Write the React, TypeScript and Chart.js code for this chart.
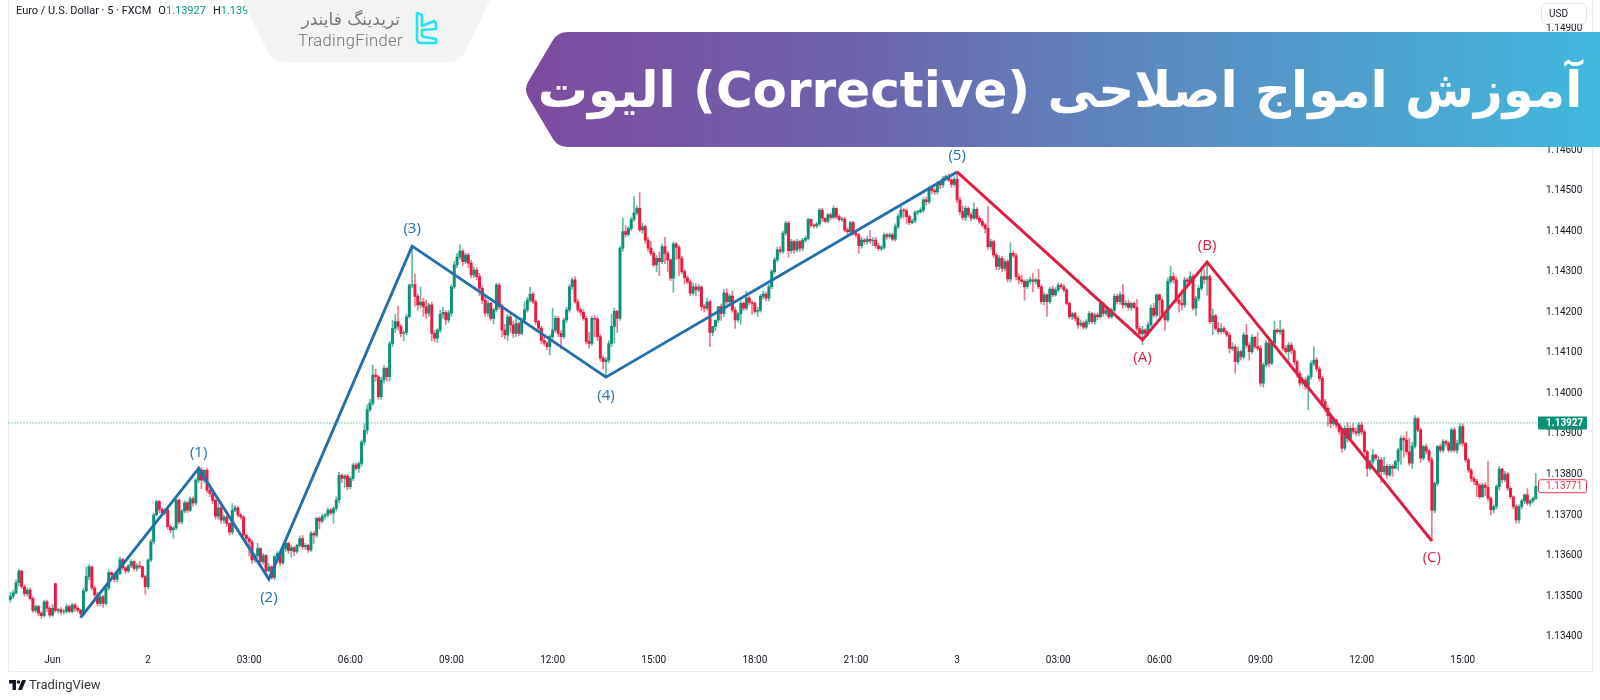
import React, { useEffect, useRef } from "react";
import { Chart, registerables } from "chart.js";

Chart.register(...registerables);

// All candle values are offsets from 1.13000 in units of 0.00001.
const BASE = 1.13;

const opens = [
492,500,508,533,562,523,506,515,494,465,474,458,452,486,470,453,531,465,467,461,
462,474,462,478,470,465,456,513,548,572,520,503,482,498,482,520,558,553,541,556,
590,570,562,575,585,568,575,572,548,523,589,634,700,733,714,705,712,671,663,668,
737,683,710,730,712,740,730,786,811,786,810,761,753,736,697,718,687,695,679,658,
712,718,700,695,650,642,634,589,600,617,585,600,562,572,546,597,605,582,617,630,
612,620,610,625,642,622,625,614,655,650,692,685,697,700,712,705,716,737,798,790,
796,770,790,823,815,827,880,909,960,976,1045,1041,992,1033,1062,1041,1123,1160,1177,1165,
1148,1150,1189,1267,1268,1239,1218,1225,1213,1198,1218,1148,1136,1156,1195,1200,1181,1198,1263,1317,
1336,1351,1325,1341,1321,1292,1304,1288,1259,1230,1198,1222,1185,1206,1267,1214,1156,1144,1189,1169,
1148,1172,1148,1181,1206,1230,1245,1226,1177,1161,1130,1124,1115,1140,1156,1185,1148,1140,1181,1206,
1263,1280,1226,1206,1200,1185,1128,1123,1185,1183,1140,1087,1078,1082,1123,1165,1202,1185,1358,1399,
1392,1407,1429,1445,1456,1403,1411,1378,1358,1345,1317,1333,1325,1362,1345,1329,1284,1369,1360,1333,
1300,1285,1275,1247,1263,1255,1262,1214,1210,1226,1150,1165,1181,1214,1197,1247,1226,1240,1205,1181,
1196,1222,1210,1235,1224,1222,1202,1205,1239,1245,1235,1263,1300,1329,1354,1350,1395,1420,1352,1374,
1354,1374,1358,1378,1382,1429,1415,1413,1418,1452,1432,1424,1440,1434,1456,1436,1428,1430,1403,1399,
1421,1395,1391,1364,1378,1374,1380,1376,1378,1364,1357,1360,1391,1387,1391,1380,1411,1436,1452,1450,
1436,1421,1425,1446,1448,1452,1477,1473,1506,1500,1497,1518,1514,1530,1535,1526,1515,1528,1477,1448,
1434,1456,1440,1432,1454,1432,1424,1415,1407,1362,1374,1341,1313,1333,1308,1325,1282,1345,1340,1288,
1280,1276,1263,1276,1280,1276,1280,1263,1226,1243,1226,1257,1243,1255,1267,1263,1255,1222,1189,1197,
1185,1169,1173,1163,1177,1197,1177,1193,1189,1222,1197,1205,1189,1205,1239,1226,1243,1218,1222,1212,
1222,1212,1160,1147,1156,1148,1169,1210,1193,1243,1230,1193,1181,1276,1288,1280,1230,1222,1218,1280,
1276,1288,1210,1234,1259,1288,1281,1288,1177,1191,1160,1152,1160,1152,1144,1111,1114,1078,1103,1090,
1144,1119,1103,1138,1115,1111,1025,1070,1124,1074,1124,1156,1152,1156,1111,1103,1119,1105,1078,1049,
1025,1033,1017,1041,1074,1082,1060,1037,980,963,945,926,934,922,906,865,914,889,914,906,
902,922,905,856,815,832,848,805,836,807,820,799,820,815,832,860,889,885,856,828,
870,938,910,840,869,858,836,712,778,869,860,881,877,860,910,860,877,918,877,836,
811,790,783,774,745,774,768,741,713,721,770,813,787,801,766,745,721,688,721,735,
750,729,735,741,
];

const highs = [
510,515,540,566,564,528,520,520,498,478,478,462,490,490,475,480,531,470,472,468,
480,478,482,482,474,468,520,572,578,574,525,510,502,502,525,565,560,556,562,597,
594,573,578,590,587,580,585,575,552,592,640,705,736,736,718,716,715,676,672,740,
740,714,735,734,745,745,790,820,818,812,815,765,756,740,728,722,700,698,682,728,
724,722,705,698,654,646,638,605,630,620,605,603,580,575,600,610,608,622,634,633,
625,622,628,648,650,630,628,660,660,695,696,702,704,718,716,720,745,805,802,800,
800,795,828,828,832,885,925,972,985,1070,1060,1045,1040,1068,1065,1128,1180,1195,1215,1170,
1155,1195,1270,1364,1295,1245,1262,1235,1230,1222,1225,1155,1160,1205,1212,1205,1204,1268,1325,1345,
1366,1356,1346,1345,1328,1312,1310,1296,1265,1240,1228,1225,1210,1272,1272,1220,1170,1195,1200,1178,
1185,1176,1186,1225,1236,1262,1250,1230,1180,1165,1138,1128,1145,1210,1192,1190,1155,1186,1212,1268,
1285,1288,1232,1210,1208,1190,1150,1190,1192,1188,1145,1092,1088,1130,1195,1210,1205,1362,1432,1414,
1412,1435,1485,1462,1495,1420,1415,1385,1375,1350,1340,1348,1368,1385,1350,1332,1373,1372,1365,1338,
1305,1290,1280,1272,1270,1268,1266,1220,1235,1230,1158,1172,1186,1220,1256,1258,1245,1252,1212,1200,
1228,1226,1252,1240,1228,1226,1212,1244,1252,1250,1268,1305,1335,1360,1362,1400,1425,1424,1380,1378,
1380,1378,1382,1388,1432,1430,1418,1422,1456,1456,1430,1444,1445,1462,1458,1440,1434,1434,1408,1425,
1425,1400,1395,1385,1382,1388,1402,1384,1385,1370,1365,1396,1395,1395,1396,1418,1442,1466,1456,1455,
1440,1430,1450,1452,1458,1482,1484,1510,1512,1506,1522,1522,1535,1538,1540,1530,1534,1546,1484,1462,
1462,1460,1445,1470,1458,1438,1430,1420,1461,1380,1378,1345,1340,1338,1330,1330,1372,1352,1345,1295,
1292,1280,1282,1286,1296,1284,1306,1268,1248,1245,1262,1265,1260,1272,1272,1268,1258,1226,1200,1200,
1190,1180,1178,1182,1202,1200,1198,1198,1228,1225,1210,1210,1210,1245,1245,1250,1268,1228,1230,1226,
1226,1232,1165,1165,1160,1175,1218,1222,1245,1246,1235,1200,1284,1313,1298,1286,1240,1255,1286,1285,
1300,1294,1240,1265,1312,1305,1321,1292,1208,1195,1175,1172,1165,1155,1150,1125,1120,1115,1106,1150,
1170,1125,1145,1140,1150,1118,1075,1130,1130,1130,1178,1160,1180,1160,1118,1125,1125,1110,1082,1055,
1040,1038,1045,1080,1115,1088,1066,1042,985,968,950,940,938,926,910,920,928,920,925,915,
928,930,910,860,836,862,850,845,842,842,825,825,825,835,865,895,895,906,890,880,
945,940,915,872,875,862,842,782,872,875,886,885,882,915,915,885,925,925,880,840,
815,795,788,778,778,780,833,745,725,775,820,815,808,805,770,748,725,725,740,752,
765,738,745,803,
];

const lows = [
485,494,505,525,518,500,500,490,460,460,452,445,448,462,448,450,460,458,455,456,
458,458,458,462,460,447,452,510,540,515,495,475,476,472,478,515,548,535,535,552,
565,556,558,570,562,562,568,544,505,518,585,628,698,705,698,700,665,655,642,664,
678,678,705,706,708,722,725,780,765,780,755,745,728,690,690,680,680,672,650,652,
708,695,690,645,635,600,580,583,595,578,578,555,560,542,540,590,575,578,610,605,
596,600,605,620,615,615,608,610,630,645,665,680,690,695,700,680,710,730,780,768,
762,765,785,810,805,820,872,900,955,970,1030,985,985,1025,1030,1030,1115,1150,1155,1140,
1130,1144,1185,1260,1215,1205,1210,1190,1185,1190,1130,1128,1125,1150,1185,1170,1175,1190,1258,1310,
1330,1315,1320,1310,1285,1285,1280,1240,1222,1190,1190,1180,1172,1200,1208,1140,1135,1130,1150,1138,
1140,1142,1145,1175,1200,1225,1222,1170,1155,1122,1118,1108,1095,1135,1150,1140,1110,1135,1175,1200,
1256,1222,1200,1192,1180,1122,1112,1118,1140,1130,1080,1060,1040,1075,1115,1125,1150,1180,1350,1385,
1388,1402,1424,1440,1398,1395,1370,1350,1340,1312,1300,1290,1320,1320,1300,1278,1249,1330,1290,1295,
1270,1270,1240,1242,1240,1250,1205,1200,1205,1115,1142,1155,1175,1180,1190,1220,1218,1200,1160,1175,
1170,1204,1205,1218,1195,1198,1190,1200,1232,1228,1228,1258,1295,1325,1345,1345,1390,1335,1345,1345,
1348,1350,1352,1372,1378,1410,1408,1408,1412,1424,1420,1420,1428,1430,1430,1424,1424,1398,1392,1392,
1390,1385,1345,1358,1368,1368,1370,1364,1358,1352,1352,1355,1380,1382,1376,1375,1406,1430,1432,1418,
1416,1418,1420,1440,1444,1446,1464,1468,1492,1490,1492,1505,1508,1525,1522,1508,1510,1470,1440,1428,
1425,1435,1425,1428,1428,1418,1410,1395,1355,1355,1335,1305,1305,1300,1302,1275,1275,1335,1280,1270,
1270,1230,1258,1270,1250,1270,1258,1220,1218,1190,1222,1238,1240,1250,1258,1250,1218,1184,1182,1178,
1160,1164,1158,1158,1170,1172,1170,1182,1185,1190,1192,1184,1184,1200,1220,1220,1210,1212,1205,1205,
1208,1155,1140,1120,1140,1142,1165,1188,1188,1190,1188,1155,1176,1270,1272,1225,1200,1205,1212,1270,
1270,1205,1192,1228,1254,1270,1242,1172,1145,1155,1146,1148,1148,1140,1100,1105,1050,1072,1082,1085,
1112,1082,1098,1110,1105,1018,1015,1065,1065,1070,1118,1148,1146,1105,1098,1075,1098,1070,1040,1018,
1020,1010,960,1035,1068,1055,1030,972,955,920,915,920,915,900,855,860,880,885,900,895,
895,898,850,795,810,825,835,800,780,800,790,795,795,815,810,825,842,850,822,815,
865,905,830,835,850,830,637,705,772,855,855,870,855,855,855,852,872,870,830,805,
782,775,745,740,742,748,735,700,705,715,762,780,782,760,740,715,680,680,715,728,
724,722,730,738,
];

const closes = [
500,508,533,562,523,506,515,494,465,474,458,452,486,470,453,470,465,467,461,462,
474,462,478,470,465,456,513,548,572,520,503,482,498,482,520,558,553,541,556,590,
570,562,575,585,568,575,572,548,523,589,634,700,733,714,705,712,671,663,668,737,
683,710,730,712,740,730,786,811,786,810,761,753,736,697,718,687,695,679,658,712,
718,700,695,650,642,634,589,600,617,585,600,562,572,546,597,605,582,617,630,612,
620,610,625,642,622,625,614,655,650,692,685,697,700,712,705,716,737,798,790,796,
770,790,823,815,827,880,909,960,976,1045,1041,992,1033,1062,1041,1123,1160,1177,1165,1148,
1150,1189,1267,1268,1239,1218,1225,1213,1198,1218,1148,1136,1156,1195,1200,1181,1198,1263,1317,1336,
1351,1325,1341,1321,1292,1304,1288,1259,1230,1198,1222,1185,1206,1267,1214,1156,1144,1189,1169,1148,
1172,1148,1181,1206,1230,1245,1226,1177,1161,1130,1124,1115,1140,1156,1185,1148,1140,1181,1206,1263,
1280,1226,1206,1200,1185,1128,1123,1185,1183,1140,1087,1078,1082,1123,1165,1202,1185,1358,1399,1392,
1407,1429,1445,1456,1403,1411,1378,1358,1345,1317,1333,1325,1362,1345,1329,1284,1369,1360,1333,1300,
1285,1275,1247,1263,1255,1262,1214,1210,1226,1150,1165,1181,1214,1197,1247,1226,1240,1205,1181,1196,
1222,1210,1235,1224,1222,1202,1205,1239,1245,1235,1263,1300,1329,1354,1350,1395,1420,1352,1374,1354,
1374,1358,1378,1382,1429,1415,1413,1418,1452,1432,1424,1440,1434,1456,1436,1428,1430,1403,1399,1421,
1395,1391,1364,1378,1374,1380,1376,1378,1364,1357,1360,1391,1387,1391,1380,1411,1436,1452,1450,1436,
1421,1425,1446,1448,1452,1477,1473,1506,1500,1497,1518,1514,1530,1535,1526,1515,1528,1477,1448,1434,
1456,1440,1432,1454,1432,1424,1415,1407,1362,1374,1341,1313,1333,1308,1325,1282,1345,1340,1288,1280,
1276,1263,1276,1280,1276,1280,1263,1226,1243,1226,1257,1243,1255,1267,1263,1255,1222,1189,1197,1185,
1169,1173,1163,1177,1197,1177,1193,1189,1222,1197,1205,1189,1205,1239,1226,1243,1218,1222,1212,1222,
1212,1160,1147,1156,1148,1169,1210,1193,1243,1230,1193,1181,1276,1288,1280,1230,1222,1218,1280,1276,
1288,1210,1234,1259,1288,1281,1288,1177,1191,1160,1152,1160,1152,1144,1111,1114,1078,1103,1090,1144,
1119,1103,1138,1115,1111,1025,1070,1124,1074,1124,1156,1152,1156,1111,1103,1119,1105,1078,1049,1025,
1033,1017,1041,1074,1082,1060,1037,980,963,945,926,934,922,906,865,914,889,914,906,902,
922,905,856,815,832,848,840,836,807,820,799,820,815,832,860,889,885,856,828,870,
938,910,840,869,858,836,712,778,869,860,881,877,860,910,860,877,918,877,836,811,
790,783,774,745,774,768,741,713,721,770,813,787,801,766,745,721,688,721,735,750,
729,735,741,771,
];

const impulseIndex = [25, 67, 92, 143, 212, 337];
const impulseValue = [447, 815, 542, 1363, 1040, 1546];
const impulseLabels = ["", "(1)", "(2)", "(3)", "(4)", "(5)"];
const correctiveIndex = [337, 403, 426, 506];
const correctiveValue = [1546, 1132, 1324, 636];
const correctiveLabels = ["", "(A)", "(B)", "(C)"];

const priceTicks = [1.134, 1.135, 1.136, 1.137, 1.138, 1.139, 1.14, 1.141, 1.142, 1.143, 1.144, 1.145, 1.146, 1.147, 1.148, 1.149];
const timeTickIndex = [15, 49, 85, 121, 157, 193, 229, 265, 301, 337, 373, 409, 445, 481, 517];
const timeTickLabels = ["Jun", "2", "03:00", "06:00", "09:00", "12:00", "15:00", "18:00", "21:00", "3", "03:00", "06:00", "09:00", "12:00", "15:00"];

const lastOpen = 1.13927;
const lastClose = 1.13771;

const UP = "#0a9279";
const DOWN = "#ea1a40";
const UP_WICK = "rgba(10,146,121,0.65)";
const DOWN_WICK = "rgba(234,26,64,0.6)";
const BLUE = "#2170ab";
const RED = "#dc1f42";
const px = (v: number) => +(BASE + v / 100000).toFixed(5);

function roundRect(ctx: CanvasRenderingContext2D, x: number, y: number, w: number, h: number, r: number) {
  ctx.beginPath();
  ctx.roundRect(x, y, w, h, r);
}

const overlay = {
  id: "overlay",
  beforeDatasetsDraw(chart: any) {
    const { ctx, scales, chartArea } = chart;
    ctx.save();
    ctx.strokeStyle = "#e9ebee";
    ctx.lineWidth = 1;
    ctx.strokeRect(8.5, -2, 1584, 673.5);
    const y = scales.y.getPixelForValue(lastOpen);
    ctx.strokeStyle = UP;
    ctx.setLineDash([1, 2]);
    ctx.beginPath();
    ctx.moveTo(chartArea.left, y);
    ctx.lineTo(chartArea.right, y);
    ctx.stroke();
    ctx.restore();
  },
  afterDraw(chart: any) {
    const { ctx, scales } = chart;
    ctx.save();
    ctx.font = '15px "Open Sans"';
    ctx.textAlign = "center";
    ctx.textBaseline = "middle";
    const labelOffsets: Record<string, number> = { "(1)": -16, "(2)": 19, "(3)": -17, "(4)": 19, "(5)": -16, "(A)": 18, "(B)": -16, "(C)": 17 };
    const put = (idx: number[], val: number[], labels: string[], color: string) => {
      ctx.fillStyle = color;
      labels.forEach((t, i) => {
        if (!t) return;
        ctx.fillText(t, scales.x.getPixelForValue(idx[i]), scales.y.getPixelForValue(px(val[i])) + labelOffsets[t]);
      });
    };
    put(impulseIndex, impulseValue, impulseLabels, BLUE);
    put(correctiveIndex, correctiveValue, correctiveLabels, RED);

    ctx.textAlign = "left";
    const yOpen = scales.y.getPixelForValue(lastOpen);
    ctx.fillStyle = UP;
    roundRect(ctx, 1538, yOpen - 6.5, 49, 13, 1);
    ctx.fill();
    ctx.fillStyle = "#ffffff";
    ctx.font = 'bold 10px Roboto';
    ctx.fillText(lastOpen.toFixed(5), 1546, yOpen + 0.5);

    const yClose = scales.y.getPixelForValue(lastClose);
    ctx.fillStyle = "#ffffff";
    roundRect(ctx, 1538.5, yClose - 6.5, 48, 13, 2);
    ctx.fill();
    ctx.strokeStyle = "#e0394f";
    ctx.lineWidth = 1;
    ctx.stroke();
    ctx.fillStyle = "#e0394f";
    ctx.font = '10px Roboto';
    ctx.fillText(lastClose.toFixed(5), 1546, yClose + 0.5);

    ctx.fillStyle = "#ffffff";
    roundRect(ctx, 1541.5, 3.5, 45, 20, 4);
    ctx.fill();
    ctx.strokeStyle = "#e3e5ea";
    ctx.stroke();
    ctx.fillStyle = "#131722";
    ctx.fillText("USD", 1549, 14);
    ctx.restore();
  },
};

export default function App() {
  const ref = useRef<HTMLCanvasElement | null>(null);
  useEffect(() => {
    if (!ref.current) return;
    const x = closes.map((_, i) => i);
    const isUp = closes.map((c, i) => c >= opens[i]);
    const chart = new Chart(ref.current, {
      type: "bar",
      data: {
        datasets: [
          {
            type: "line",
            data: impulseIndex.map((v, i) => ({ x: v, y: px(impulseValue[i]) })),
            borderColor: BLUE,
            borderWidth: 2.9,
            pointRadius: 0,
            tension: 0,
            order: 2,
          },
          {
            type: "line",
            data: correctiveIndex.map((v, i) => ({ x: v, y: px(correctiveValue[i]) })),
            borderColor: RED,
            borderWidth: 2.9,
            pointRadius: 0,
            tension: 0,
            order: 1,
          },
          {
            data: x.map((i) => ({ x: i, y: [px(opens[i]), px(closes[i])] })),
            backgroundColor: isUp.map((u) => (u ? UP : DOWN)),
            barThickness: 2.3,
            grouped: false,
            order: 3,
          },
          {
            data: x.map((i) => ({ x: i, y: [px(lows[i]), px(highs[i])] })),
            backgroundColor: isUp.map((u) => (u ? UP_WICK : DOWN_WICK)),
            barThickness: 1,
            grouped: false,
            order: 4,
          },
        ] as any,
      },
      options: {
        responsive: false,
        animation: false,
        devicePixelRatio: 1,
        layout: { padding: { left: 8.5, right: 8, top: 0, bottom: 29 } },
        plugins: { legend: { display: false }, tooltip: { enabled: false } },
        events: [],
        scales: {
          x: {
            type: "linear",
            offset: false,
            min: -0.68,
            max: 544.5,
            grid: { display: false, drawTicks: false },
            border: { display: false },
            afterBuildTicks: (scale: any) => {
              scale.ticks = timeTickIndex.map((value) => ({ value }));
            },
            afterFit: (scale: any) => {
              scale.height = 25;
              scale.paddingLeft = 0;
              scale.paddingRight = 0;
            },
            ticks: {
              autoSkip: false,
              maxRotation: 0,
              padding: 8,
              color: "#131722",
              font: { family: "Roboto", size: 10 },
              callback: (v: any) => timeTickLabels[timeTickIndex.indexOf(Number(v))] ?? "",
            },
          },
          y: {
            type: "linear",
            position: "right",
            beginAtZero: false,
            min: 1.13377,
            max: 1.1497,
            grid: { display: false, drawTicks: false },
            border: { display: false },
            afterBuildTicks: (scale: any) => {
              scale.ticks = priceTicks.map((value) => ({ value }));
            },
            afterFit: (scale: any) => {
              scale.width = 52;
              scale.paddingTop = 0;
              scale.paddingBottom = 0;
            },
            ticks: {
              padding: 6,
              color: "#131722",
              font: { family: "Roboto", size: 10 },
              callback: (v: any) => Number(v).toFixed(5),
            },
          },
        },
      } as any,
      plugins: [overlay],
    });
    return () => chart.destroy();
  }, []);

  return (
    <div style={{ position: "absolute", left: 0, top: 0, width: 1600, height: 700, background: "#fff", overflow: "hidden" }}>
      <canvas ref={ref} width={1600} height={700} style={{ display: "block", width: 1600, height: 700 }} />

      <div style={{ position: "absolute", left: 16, top: 4, font: "11px Roboto", color: "#131722", whiteSpace: "nowrap", lineHeight: "14px" }}>
        Euro / U.S. Dollar · 5 · FXCM
        <span style={{ marginLeft: 7 }}>O</span>
        <span style={{ color: "#089981" }}>1.13927</span>
        <span style={{ marginLeft: 7 }}>H</span>
        <span style={{ color: "#089981" }}>1.13944</span>
      </div>

      <div
        style={{
          position: "absolute",
          left: 242,
          top: 0,
          width: 250,
          height: 62,
          background: "#f2f3f3",
          clipPath: "path('M0 0 L248 0 L224 50 Q218 62 206 62 L44 62 Q32 62 26 52 Z')",
        }}
      />
      <div dir="rtl" style={{ position: "absolute", left: 290, width: 110, top: 8, textAlign: "right", font: '17px "DejaVu Sans"', color: "#777", whiteSpace: "nowrap", lineHeight: "22px" }}>
        تریدینگ فایندر
      </div>
      <div style={{ position: "absolute", left: 298, top: 31, font: '300 16.5px Roboto', letterSpacing: 0.4, color: "#6f7173", whiteSpace: "nowrap", lineHeight: "20px" }}>
        TradingFinder
      </div>
      <svg style={{ position: "absolute", left: 412, top: 10 }} width={30} height={38} viewBox="0 0 30 38" fill="none" stroke="#22e3ee" strokeWidth={2.6} strokeLinejoin="round">
        <path d="M5 3 L10 5 L10 16 L22 11 L24 13 L24 19 L10 20 L10 24 Q10 27 13 27 L24 29 L24 33 L9 33 Q5 33 5 29 Z" />
      </svg>

      <svg style={{ position: "absolute", left: 526, top: 32 }} width={1074} height={115}>
        <defs>
          <linearGradient id="bannerFill" x1="0" y1="0" x2="1" y2="0">
            <stop offset="0" stopColor="#7f4a9f" />
            <stop offset="0.3" stopColor="#6d62ac" />
            <stop offset="0.6" stopColor="#5a8cc1" />
            <stop offset="1" stopColor="#40b8de" />
          </linearGradient>
        </defs>
        <path d="M2 50 L27 8 Q32 0 42 0 L1074 0 L1074 115 L42 115 Q32 115 27 107 L2 65 Q-2 57.5 2 50 Z" fill="url(#bannerFill)" />
      </svg>
      <div dir="rtl" style={{ position: "absolute", left: 530, width: 1060, top: 32, height: 115, display: "flex", alignItems: "center", justifyContent: "center", font: 'bold 50px "DejaVu Sans"', color: "#fff", whiteSpace: "nowrap" }}>
        آموزش امواج اصلاحی (Corrective) الیوت
      </div>

      <svg style={{ position: "absolute", left: 9, top: 680 }} width={17} height={10} viewBox="0 0 17 10" fill="#131722">
        <path d="M0 0 H7 V10 H3.5 V3.5 H0 Z" />
        <circle cx="9.5" cy="2" r="1.8" />
        <path d="M13 0 H17 L13 10 H9 Z" />
      </svg>
      <div style={{ position: "absolute", left: 29, top: 677, font: "13px Roboto", color: "#333", whiteSpace: "nowrap", lineHeight: "16px" }}>TradingView</div>
    </div>
  );
}
